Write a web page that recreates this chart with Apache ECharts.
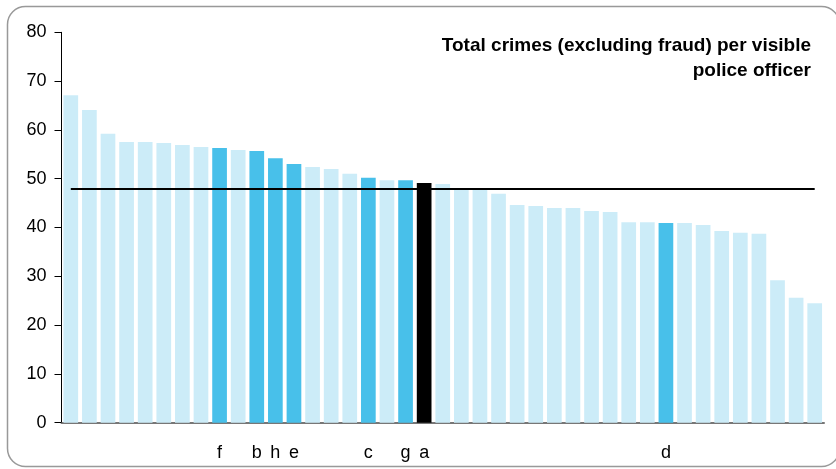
<!DOCTYPE html>
<html>
<head>
<meta charset="utf-8">
<script src="https://cdn.jsdelivr.net/npm/echarts@6/dist/echarts.min.js"></script>
<style>html,body{margin:0;padding:0;background:#fff;}#c{width:836px;height:469px;}</style>
</head>
<body>
<div id="c"></div>
<script>
const categories = ['', '', '', '', '', '', '', '', 'f', '', 'b', 'h', 'e', '', '', '', 'c', '', 'g', 'a',
  '', '', '', '', '', '', '', '', '', '', '', '', 'd', '', '', '', '', '', '', '', ''];
const values = [67.1, 64.1, 59.2, 57.5, 57.5, 57.3, 56.9, 56.5, 56.3, 55.9, 55.7, 54.2, 53.0, 52.4, 52.0, 51.0, 50.2, 49.7, 49.7, 49.1,
  48.9, 47.8, 47.7, 46.9, 44.6, 44.4, 44.0, 44.0, 43.4, 43.2, 41.1, 41.1, 40.9, 40.9, 40.5, 39.3, 38.9, 38.7, 29.2, 25.6, 24.5];
const highlighted = ['f', 'b', 'h', 'e', 'c', 'g', 'd'];
const selected = 'a';
const average = 47.9;
const yTicks = [0, 10, 20, 30, 40, 50, 60, 70, 80];
const titleText = 'Total crimes (excluding fraud) per visible\npolice officer';

const LIGHT = '#CCECF8', MID = '#48C0EA', DARK = '#000000';
const xData = categories.map((c, i) => i);
const barData = values.map((v, i) => {
  const c = categories[i];
  let col = LIGHT;
  if (c === selected) col = DARK; else if (highlighted.indexOf(c) >= 0) col = MID;
  return { value: v, itemStyle: { color: col } };
});

const chart = echarts.init(document.getElementById('c'), null, { renderer: 'canvas' });
chart.setOption({
  animation: false,
  backgroundColor: '#fff',
  graphic: [{
    type: 'rect', shape: { x: 7.5, y: 6.5, width: 832, height: 460, r: 18 },
    style: { fill: 'none', stroke: '#999', lineWidth: 1.5 }, z: -1
  }, {
    type: 'text', x: 811, y: 33, z: 10,
    style: {
      text: titleText, textAlign: 'right', textVerticalAlign: 'top',
      font: 'bold 19px "Liberation Sans", Arial, sans-serif', fill: '#000', lineHeight: 25
    }
  }],
  grid: { left: 61.5, right: 12, top: 32.3, bottom: 46.3, containLabel: false },
  xAxis: {
    type: 'category', data: xData,
    axisLine: { lineStyle: { color: '#777', width: 2 } },
    axisTick: { show: false },
    axisLabel: {
      interval: 0, margin: 21,
      formatter: (v) => categories[+v],
      fontFamily: 'Liberation Sans, Arial, sans-serif', fontSize: 18, color: '#000'
    }
  },
  yAxis: {
    type: 'value', min: 0, max: 80, interval: 10,
    axisLine: { show: true, lineStyle: { color: '#000', width: 1 } },
    axisTick: { show: true, length: 7, lineStyle: { color: '#000' } },
    splitLine: { show: false },
    axisLabel: {
      margin: 15,
      formatter: (v) => (yTicks.indexOf(v) >= 0 ? String(v) : ''),
      fontFamily: 'Liberation Sans, Arial, sans-serif', fontSize: 18, color: '#000'
    }
  },
  series: [{
    type: 'bar', data: barData, barCategoryGap: '21%',
    markLine: {
      silent: true, symbol: 'none',
      label: { show: false },
      lineStyle: { color: '#000', width: 2, type: 'solid' },
      data: [[{ coord: [0, average] }, { coord: [values.length - 1, average] }]]
    }
  }]
});
</script>
</body>
</html>
